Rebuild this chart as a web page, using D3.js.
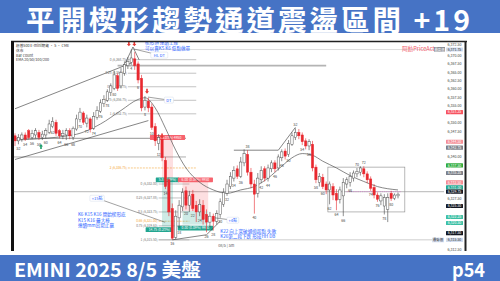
<!DOCTYPE html>
<html>
<head>
<meta charset="utf-8">
<script src="https://cdn.jsdelivr.net/npm/d3@7/dist/d3.min.js"></script>
<style>
html, body { margin: 0; padding: 0; background: #fff; }
svg { display: block; }
</style>
</head>
<body>
<div id="chart"></div>
<script>
// 5 min bars, [open, high, low, close]; first 30 are the previous session (bars 51-81)
const bars = [
    [6346.25, 6347, 6343.25, 6344.75], [6344.75, 6346.75, 6343.75, 6345.75], [6345.25, 6347.25, 6344.5, 6346.5],
    [6346.5, 6347.25, 6344.75, 6345.25], [6347.75, 6348.25, 6345.25, 6345.75], [6345.75, 6348, 6345.25, 6347],
    [6346.5, 6348.5, 6345.5, 6347.75], [6347.25, 6348, 6345, 6345.75], [6345.75, 6347.75, 6345, 6346.75],
    [6346.5, 6348.5, 6345.5, 6347.75], [6347.25, 6351, 6346.75, 6349.75], [6349, 6351.75, 6348.5, 6350.5],
    [6350.25, 6351, 6346.25, 6347], [6347.75, 6348.25, 6345.5, 6346.25], [6346.25, 6348, 6345.25, 6347],
    [6346.5, 6348.5, 6345, 6347.75], [6347.75, 6348.5, 6345.25, 6346.25], [6345.75, 6349, 6345, 6348.5],
    [6348.25, 6352.5, 6347.75, 6351.25], [6351, 6354.5, 6350.25, 6353.25], [6353, 6353.5, 6349.5, 6350.25],
    [6350, 6352.5, 6348.75, 6351.5], [6351.25, 6351.75, 6347.25, 6348.25], [6348.5, 6353.25, 6348, 6352],
    [6351.75, 6355, 6351, 6353.75], [6353.5, 6357, 6353, 6356], [6355.75, 6358.25, 6354.75, 6357],
    [6356.75, 6360, 6356.25, 6359.25], [6359, 6361.75, 6358, 6361], [6360.25, 6365.5, 6359.75, 6364.25],
    [6364, 6364.75, 6359.5, 6360.25], [6361, 6366.25, 6360.25, 6365], [6364.75, 6368.25, 6364, 6367.25],
    [6367, 6369.5, 6366, 6368.25], [6368, 6371.75, 6367.25, 6369.25], [6369, 6371, 6365.75, 6367],
    [6367.5, 6368.25, 6361.75, 6362.75], [6363.25, 6364.25, 6353.5, 6354.5], [6354.75, 6358, 6353.75, 6356.75],
    [6356.5, 6357.5, 6353.25, 6354.5], [6354.75, 6355.75, 6348, 6348.75], [6349, 6350, 6343.25, 6344.75],
    [6344, 6346.75, 6342, 6345.75], [6345.25, 6346.25, 6338.75, 6339.75], [6339, 6340, 6330.5, 6331.25],
    [6333.25, 6334, 6322.5, 6323.75], [6324.75, 6326.25, 6315.5, 6316], [6316.25, 6324.25, 6315.75, 6322.5],
    [6322, 6327.25, 6319, 6325.75], [6325.25, 6330.75, 6324, 6329.5], [6330, 6331.25, 6324.5, 6325.75],
    [6325.75, 6330, 6323.75, 6328.5], [6329, 6330.25, 6324, 6324.75], [6325.75, 6327, 6320.75, 6323.75],
    [6323.75, 6327.5, 6322.5, 6326], [6325.75, 6327.25, 6320, 6321.5], [6323, 6324.5, 6317.75, 6320.75],
    [6320.75, 6323.75, 6319.25, 6322.5], [6322.5, 6323.25, 6318.25, 6321], [6321, 6324.25, 6320, 6323.25],
    [6323, 6327.75, 6322, 6326.75], [6326, 6330.75, 6325.25, 6329.5], [6329.25, 6333.25, 6328.5, 6332],
    [6331.25, 6335.5, 6330.5, 6334.25], [6333.75, 6337.25, 6332.75, 6336], [6336.5, 6337.5, 6333.5, 6334.25],
    [6334.25, 6340, 6333.75, 6338.5], [6338.25, 6342.25, 6337.25, 6341], [6340.75, 6342, 6334.5, 6335.5],
    [6335.5, 6336.75, 6330.75, 6332], [6332, 6333.25, 6323.25, 6329], [6329.25, 6335.25, 6328, 6333.75],
    [6333.25, 6337.25, 6332.25, 6336], [6336.5, 6337.25, 6332.75, 6333.75], [6333.75, 6337.75, 6332.75, 6336.75],
    [6336.5, 6339, 6335.5, 6338.25], [6338.25, 6339, 6335.5, 6336.5], [6336.75, 6340.75, 6336, 6340],
    [6339.75, 6342.25, 6338.75, 6341.5], [6341.75, 6342.5, 6339.25, 6340.25], [6340.75, 6345, 6340, 6344],
    [6343.75, 6347.25, 6343.25, 6346.25], [6345.75, 6348.5, 6345, 6347.25], [6347.25, 6348.25, 6345.25, 6346.25],
    [6346.5, 6347.25, 6343.5, 6344.5], [6344.75, 6345.5, 6342.25, 6343.25], [6343.25, 6345.25, 6342, 6344.5],
    [6343.75, 6344.75, 6335.75, 6336.75], [6337, 6337.75, 6332.25, 6333.25], [6332.5, 6335.25, 6331.25, 6334.25],
    [6334, 6335, 6330.5, 6331.25], [6332, 6332.75, 6329, 6330.25], [6330.25, 6332.75, 6326, 6332],
    [6331.25, 6332.25, 6327.25, 6328.75], [6329.25, 6330.5, 6324.25, 6327.25], [6327.5, 6331.25, 6326.25, 6330.25],
    [6328.5, 6333.75, 6322.5, 6332.5], [6332, 6334, 6330.75, 6333.25], [6332.5, 6335.5, 6331.25, 6334.25],
    [6333.75, 6336, 6332.75, 6335.25], [6335, 6336.75, 6334, 6335.75], [6335.5, 6337.25, 6334.5, 6336.75],
    [6336.5, 6337.25, 6334, 6335], [6335, 6335.75, 6332.25, 6333.25], [6333.5, 6334.25, 6330, 6330.75],
    [6331, 6332, 6327.75, 6328.75], [6328.75, 6329.5, 6326.75, 6327.5], [6327, 6329.25, 6325.75, 6328.5],
    [6325.5, 6329, 6323, 6328], [6324.5, 6329.25, 6320.75, 6328], [6329.25, 6330, 6327, 6327.75],
    [6327.75, 6329.25, 6327.25, 6328.75], [6328.5, 6329.5, 6327.75, 6329]
];

// EMA 20: [bar, price]
const ema20 = [
    [0, 6345], [17, 6346.5], [25, 6349.75], [31, 6353.75], [36, 6357], [38, 6357.5], [41, 6354.5],
    [44, 6348.5], [47, 6342], [50, 6336.75], [54, 6332.5], [58, 6330.25], [62, 6329.25], [66, 6330.25],
    [70, 6331.25], [74, 6333.75], [78, 6337.25], [81, 6339.75], [84, 6341], [87, 6340.5], [90, 6338.75],
    [94, 6336.75], [98, 6334.5], [102, 6332.75], [106, 6331.25], [112, 6330.25]
];

const priceTicks = [6372.5, 6370, 6367.5, 6365, 6362.5, 6360, 6357.5, 6355, 6350, 6347.5, 6340, 6327.5, 6312.5];

const axisTags = [
    { p: 6371.75, t: "6,371.75", bg: "#d3def0", fg: "#333" },
    { p: 6353.25, t: "6,353.25", bg: "#f7525f", fg: "#fff" },
    { p: 6344.5, t: "6,344.50", bg: "#f48a93", fg: "#fff" },
    { p: 6342.75, t: "6,342.75", bg: "#7c7f88", fg: "#fff" },
    { p: 6337.5, t: "6,337.50", bg: "#2fab3c", fg: "#fff" },
    { p: 6335.25, t: "6,335.25", bg: "#7c7f88", fg: "#fff" },
    { p: 6332.5, t: "6,332.50", bg: "#f48a93", fg: "#fff" },
    { p: 6331, t: "6,331.00", bg: "#22a58f", fg: "#fff" },
    { p: 6329.75, t: "6,329.75", bg: "#131722", fg: "#fff" },
    { p: 6325.5, t: "6,325.50", bg: "#131722", fg: "#fff" },
    { p: 6322.25, t: "6,322.25", bg: "#3cbfa4", fg: "#fff" },
    { p: 6320.5, t: "6,320.50", bg: "#3cbfa4", fg: "#fff" },
    { p: 6317.5, t: "6,317.50", bg: "#131722", fg: "#fff" },
    { p: 6315.5, t: "6,315.50", bg: "#d3def0", fg: "#333" }
];

// bar count labels [bar, text, side]
const barLabels = [
    [1, "52", "b"], [3, "54", "b"], [5, "56", "b"], [7, "58", "b"], [9, "60", "b"], [11, "62", "b"],
    [13, "64", "b"], [15, "66", "b"], [17, "68", "b"], [19, "70", "b"], [21, "72", "b"], [23, "74", "b"],
    [25, "76", "b"], [27, "78", "b"], [29, "80", "b"],
    [34, "4", "b"], [36, "6", "b"], [38, "8", "b"], [40, "10", "b"], [42, "12", "b"], [44, "14", "b"],
    [46, "16", "b"], [48, "18", "b"], [50, "20", "b"], [52, "22", "b"], [54, "24", "b"], [56, "26", "b"],
    [58, "28", "b"], [60, "30", "b"], [62, "32", "b"], [64, "34", "b"], [66, "36", "b"], [68, "38", "a"],
    [70, "40", "b"], [72, "42", "b"], [74, "44", "b"], [76, "46", "b"], [78, "48", "b"], [80, "50", "b"],
    [82, "52", "a"], [84, "54", "b"], [86, "56", "b"], [88, "58", "b"], [90, "60", "b"], [92, "62", "b"],
    [94, "64", "b"], [96, "66", "b"], [98, "68", "b"], [100, "70", "a"], [102, "72", "a"], [104, "74", "b"],
    [106, "76", "b"], [108, "78", "b"], [110, "80", "b"]
];

const fibTop = [
    ["0 (6,368.75)", 6368.75], ["0.25 (6,364.75)", 6364.75], ["0.5 (6,360.75)", 6360.75],
    ["0.75 (6,356.75)", 6356.75], ["1 (6,352.75)", 6352.75]
];
const fibTopExt = ["2 (6,336.75)", 6336.75];
const fibLow = [
    ["0 (6,332.00)", 6332], ["0.25 (6,327.88)", 6327.88], ["0.5 (6,323.75)", 6323.75],
    ["0.75 (6,319.63)", 6319.63], ["1 (6,315.50)", 6315.5]
];
const fibLowExt = ["0.66 (6,321.00)", 6321];

// horizontal levels [price, fromBar, toBar, colour, width, dash]
const levels = [
    [6371.75, 34, 126, "#cfcfcf", 0.7, null],
    [6367, 30, 91, "#b4b4b4", 1.6, null],
    [6345.5, -1, 50, "#a8a8a8", 1.3, null],
    [6340, -1, 50, "#777", 0.6, null],
    [6329.75, -1, 126, "#c4c4c4", 1.3, null],
    [6315.5, 42, 126, "#aaa", 0.6, null],
    [6329.75, 97, 113, "#d76bd0", 0.7, "1,1.2"]
];

// drawn trend lines [[bar, price], ...]
const trendLines = [
    [[0, 6339.25], [39, 6350.75]],
    [[0, 6354.25], [34, 6367.75]],
    [[32.2, 6367.7], [34.5, 6372.5], [36.3, 6368.7]],
    [[46, 6315.5], [56, 6317], [60, 6321]],
    [[64, 6342], [77, 6342], [82, 6348.75]]
];

// position tools
const zones = [
    { from: 43, to: 46.2, top: 6345.75, mid: 6333.25, bot: 6319.5,
      topText: "1.75 (0.03%) 4950", midText: "5.8 (0.09%)", botText: "14.75 (0.23%)" },
    { from: 49, to: 56.5, top: 6333.25, mid: 6324, bot: 6320,
      topText: "6.00 (0.09%) 9950", midText: "", botText: "0.00 (0.09%) 9950" }
];

const legendLines = ["標普500 E-mini期貨 · 5 · CME", "休市", "Bar Count", "EMA 20/50/100/200"];

const notes = [
    { bar: 38, p: 6373.3, lines: ["楔形頂 連續上推", "可以賣K5 K6 低點做單"] },
    { bar: 18.4, p: 6322.5, lines: ["K6 K15 K16 開始楔形底", "K15 K16 最大棒", "連續mm出場止贏"] },
    { bar: 60, p: 6317.6, lines: ["K22 向上突破通道起點 失敗", "K26第二段下跌 形成HH DB"] }
];

// callout boxes [text, bar, price, lineTo]
const callouts = [
    ["HL DT", 42.2, 6370.1, [34.8, 6371.9]],
    ["DT", 45, 6356.8, [38.9, 6357.7]],
    ["+15點", 24, 6327.8, [43.9, 6320.7]],
    ["+4點", 63.7, 6321.3, [58.5, 6322]]
];

const downArrows = [[33.3, 6373.4], [34.9, 6373.4], [38.6, 6359.4], [43, 6346.2]];
const upArrows = [[7.6, 6343.1]];

const title = "平開楔形趨勢通道震盪區間 +19";
const footLeft = "EMINI 2025 8/5 美盤";
const footRight = "p54";

const W = 500, H = 281;
const BLUE = "#4673c5";
const RED = "#e8282f";
const NOTE = "#2962ff";
const CJK = "'Noto Sans CJK TC', 'Noto Sans', sans-serif";

const svg = d3.select('#chart')
    .append('svg')
    .attr('width', W)
    .attr('height', H)
    .style('font-family', CJK);

svg.append('rect').attr('width', W).attr('height', H).attr('fill', '#fff');

// banners
svg.append('rect').attr('x', 0).attr('y', 0).attr('width', W).attr('height', 33).attr('fill', BLUE);
svg.append('text')
    .attr('x', 26).attr('y', 30.5)
    .attr('font-size', 28.5).attr('font-weight', 700)
    .attr('fill', '#fff')
    .attr('textLength', 444).attr('lengthAdjust', 'spacing')
    .text(title);

svg.append('rect').attr('x', 0).attr('y', 255).attr('width', W).attr('height', 26).attr('fill', BLUE);
svg.append('text')
    .attr('x', 14).attr('y', 276.5)
    .attr('font-size', 19).attr('font-weight', 700).attr('fill', '#fff')
    .attr('textLength', 187).attr('lengthAdjust', 'spacingAndGlyphs')
    .text(footLeft);
svg.append('text')
    .attr('x', 452).attr('y', 276.5)
    .attr('font-size', 19).attr('font-weight', 700).attr('fill', '#fff')
    .attr('textLength', 33).attr('lengthAdjust', 'spacingAndGlyphs')
    .text(footRight);

// scales
const x = d3.scaleLinear().domain([0, 112]).range([15, 398]);
const y = d3.scaleLinear().domain([6312.5, 6372.5]).range([250, 47]);

svg.append('clipPath').attr('id', 'plotclip')
    .append('rect').attr('x', 14).attr('y', 42).attr('width', 430).attr('height', 209);

const plot = svg.append('g').attr('clip-path', 'url(#plotclip)');

// levels
plot.selectAll('line.level')
    .data(levels)
    .join('line')
    .attr('x1', d => x(d[1])).attr('x2', d => x(d[2]))
    .attr('y1', d => y(d[0])).attr('y2', d => y(d[0]))
    .attr('stroke', d => d[3]).attr('stroke-width', d => d[4])
    .attr('stroke-dasharray', d => d[5]);

// fib retracements
function drawFib(levelsList, ext, fromBar, toBar, extColor) {
    const all = levelsList.map(d => [d[0], d[1], '#9a9a9a', '#777']).concat([[ext[0], ext[1], extColor, extColor]]);
    plot.selectAll(null)
        .data(all)
        .join('line')
        .attr('x1', x(fromBar)).attr('x2', x(toBar))
        .attr('y1', d => y(d[1])).attr('y2', d => y(d[1]))
        .attr('stroke', d => d[2]).attr('stroke-width', 0.6)
        .attr('stroke-dasharray', d => d[2] === extColor ? '2,1' : null);
    plot.selectAll(null)
        .data(all)
        .join('text')
        .attr('x', x(fromBar) - 1).attr('y', d => y(d[1]) + 1.1)
        .attr('text-anchor', 'end')
        .attr('font-size', 3.2)
        .attr('fill', d => d[3])
        .text(d => d[0]);
}
drawFib(fibTop, fibTopExt, 33, 53, '#f5a73b');
drawFib(fibLow, fibLowExt, 42, 51, '#f5a73b');

// position tools
zones.forEach((z, zi) => {
    const x0 = x(z.from), x1 = x(z.to);
    plot.append('rect').attr('x', x0).attr('width', x1 - x0)
        .attr('y', y(z.top)).attr('height', y(z.mid) - y(z.top))
        .attr('fill', 'rgba(242,54,69,0.16)');
    plot.append('rect').attr('x', x0).attr('width', x1 - x0)
        .attr('y', y(z.mid)).attr('height', y(z.bot) - y(z.mid))
        .attr('fill', 'rgba(8,153,129,0.2)');
    const tags = [[z.topText, z.top, '#f7636e', 0], [z.midText, z.mid, '#22a58f', 0], [z.botText, z.bot, '#22a58f', 1]];
    tags.filter(t => t[0]).forEach(t => {
        const tw = t[0].length * 1.95 + 2;
        // first tool: bottom tag sits right-aligned under the box
        const right = zi === 0 && t[3] === 1;
        const cx = right ? x1 - tw / 2 : (x0 + x1) / 2;
        const cy = y(t[1]) + (t[3] === 1 ? 3.4 : 0);
        plot.append('rect').attr('x', cx - tw / 2).attr('y', cy - 2.4)
            .attr('width', tw).attr('height', 4.8).attr('rx', 0.6).attr('fill', t[2]);
        plot.append('text').attr('x', cx).attr('y', cy + 1.2)
            .attr('text-anchor', 'middle').attr('font-size', 3.4).attr('fill', '#fff')
            .text(t[0]);
    });
});

// right-hand range box
plot.append('rect')
    .attr('x', x(91.5)).attr('y', y(6337))
    .attr('width', x(114) - x(91.5)).attr('height', y(6323.75) - y(6337))
    .attr('fill', 'none').attr('stroke', '#888').attr('stroke-width', 0.6);

// trend lines
const lineGen = d3.line().x(d => x(d[0])).y(d => y(d[1]));
plot.selectAll('path.trend')
    .data(trendLines)
    .join('path')
    .attr('d', lineGen)
    .attr('fill', 'none').attr('stroke', '#333').attr('stroke-width', 0.6);

// EMA
plot.append('path')
    .datum(ema20)
    .attr('d', d3.line().curve(d3.curveMonotoneX).x(d => x(d[0])).y(d => y(d[1])))
    .attr('fill', 'none').attr('stroke', '#555').attr('stroke-width', 0.7);

// candles
const candle = plot.selectAll('g.candle')
    .data(bars)
    .join('g');
candle.append('line')
    .attr('x1', (d, i) => x(i)).attr('x2', (d, i) => x(i))
    .attr('y1', d => y(d[1])).attr('y2', d => y(d[2]))
    .attr('stroke', d => d[3] < d[0] ? RED : '#444').attr('stroke-width', 0.6);
candle.append('rect')
    .attr('x', (d, i) => x(i) - 1.15).attr('width', 2.3)
    .attr('y', d => y(Math.max(d[0], d[3])))
    .attr('height', d => Math.max(0.6, Math.abs(y(d[0]) - y(d[3]))))
    .attr('fill', d => d[3] < d[0] ? RED : '#fff')
    .attr('stroke', d => d[3] < d[0] ? RED : '#444').attr('stroke-width', 0.45);

// bar counts
plot.selectAll('text.count')
    .data(barLabels)
    .join('text')
    .attr('x', d => x(d[0]))
    .attr('y', d => d[2] === 'a' ? y(bars[d[0]][1]) - 2 : y(bars[d[0]][2]) + 5.5)
    .attr('text-anchor', 'middle').attr('font-size', 3.6).attr('fill', '#444')
    .text(d => d[1]);

// arrows
function arrow(bx, p, dir, color) {
    const cx = x(bx), cy = y(p);
    const s = dir;
    const path = `M${cx - 0.8},${cy - 2.6 * s} L${cx + 0.8},${cy - 2.6 * s} L${cx + 0.8},${cy} L${cx + 2},${cy} L${cx},${cy + 2.4 * s} L${cx - 2},${cy} L${cx - 0.8},${cy} Z`;
    plot.append('path').attr('d', path).attr('fill', color);
}
downArrows.forEach(d => arrow(d[0], d[1], 1, '#e53935'));
upArrows.forEach(d => arrow(d[0], d[1], -1, '#1e9e6a'));

// notes
notes.forEach(n => {
    n.lines.forEach((t, k) => {
        plot.append('text')
            .attr('x', x(n.bar)).attr('y', y(n.p) + k * 5.6)
            .attr('font-size', 4.6).attr('fill', NOTE)
            .text(t);
    });
});

// callouts
callouts.forEach(c => {
    const cx = x(c[1]), cy = y(c[2]);
    plot.append('line')
        .attr('x1', cx).attr('y1', cy).attr('x2', x(c[3][0])).attr('y2', y(c[3][1]))
        .attr('stroke', '#444').attr('stroke-width', 0.5);
    const tw = c[0].length * 2.6 + 4;
    plot.append('rect').attr('x', cx - tw / 2).attr('y', cy - 3)
        .attr('width', tw).attr('height', 6).attr('rx', 1)
        .attr('fill', '#fff').attr('stroke', '#c9d3e6').attr('stroke-width', 0.4);
    plot.append('text').attr('x', cx).attr('y', cy + 1.5)
        .attr('text-anchor', 'middle').attr('font-size', 4).attr('fill', NOTE)
        .text(c[0]);
});

// session date on the time line
plot.append('text').attr('x', x(59.4)).attr('y', y(6313.4))
    .attr('font-size', 3.8).attr('fill', '#555').text('08/5 | 5m');

// legend, top-left
svg.selectAll('text.legend')
    .data(legendLines)
    .join('text')
    .attr('x', 16).attr('y', (d, i) => 47 + i * 4.8)
    .attr('font-size', 3.7).attr('fill', '#333')
    .text(d => d);

// watermark
svg.append('text').attr('x', 402).attr('y', 51)
    .attr('font-size', 5.6).attr('fill', '#f0606c').text('阿勳PriceAct');
svg.append('rect').attr('x', 434).attr('y', 47).attr('width', 11).attr('height', 4.6).attr('fill', '#8a8d96');
svg.append('text').attr('x', 439.5).attr('y', 50.5).attr('text-anchor', 'middle')
    .attr('font-size', 3.4).attr('fill', '#fff').text('最高價');
svg.append('rect').attr('x', 432).attr('y', 237.7).attr('width', 12).attr('height', 4.6).attr('fill', '#d3def0');
svg.append('text').attr('x', 438).attr('y', 241.2).attr('text-anchor', 'middle')
    .attr('font-size', 3.4).attr('fill', '#333').text('最低價');

// price axis
const axisX = 454.5;
svg.selectAll('text.tick')
    .data(priceTicks)
    .join('text')
    .attr('x', axisX)
    // the top tick sits just above the high tag
    .attr('y', d => y(d) + (d === 6372.5 ? -0.6 : 1.2))
    .attr('text-anchor', 'middle').attr('font-size', 3.6).attr('fill', '#444')
    .text(d => d3.format(",.2f")(d));
const tag = svg.selectAll('g.tag')
    .data(axisTags)
    .join('g');
tag.append('rect')
    .attr('x', axisX - 8.5).attr('y', d => y(d.p) - 2.05)
    .attr('width', 17).attr('height', 4.1).attr('rx', 0.5)
    .attr('fill', d => d.bg);
tag.append('text')
    .attr('x', axisX).attr('y', d => y(d.p) + 1.2)
    .attr('text-anchor', 'middle').attr('font-size', 3.5).attr('fill', d => d.fg)
    .text(d => d.t);

// frame
svg.append('line').attr('x1', 11).attr('x2', 467).attr('y1', 41.5).attr('y2', 41.5)
    .attr('stroke', '#222').attr('stroke-width', 1.5);
svg.append('line').attr('x1', 12.5).attr('x2', 12.5).attr('y1', 41).attr('y2', 251)
    .attr('stroke', '#111').attr('stroke-width', 3);
svg.append('line').attr('x1', 465.5).attr('x2', 465.5).attr('y1', 41).attr('y2', 251)
    .attr('stroke', '#222').attr('stroke-width', 2);
</script>
</body>
</html>
